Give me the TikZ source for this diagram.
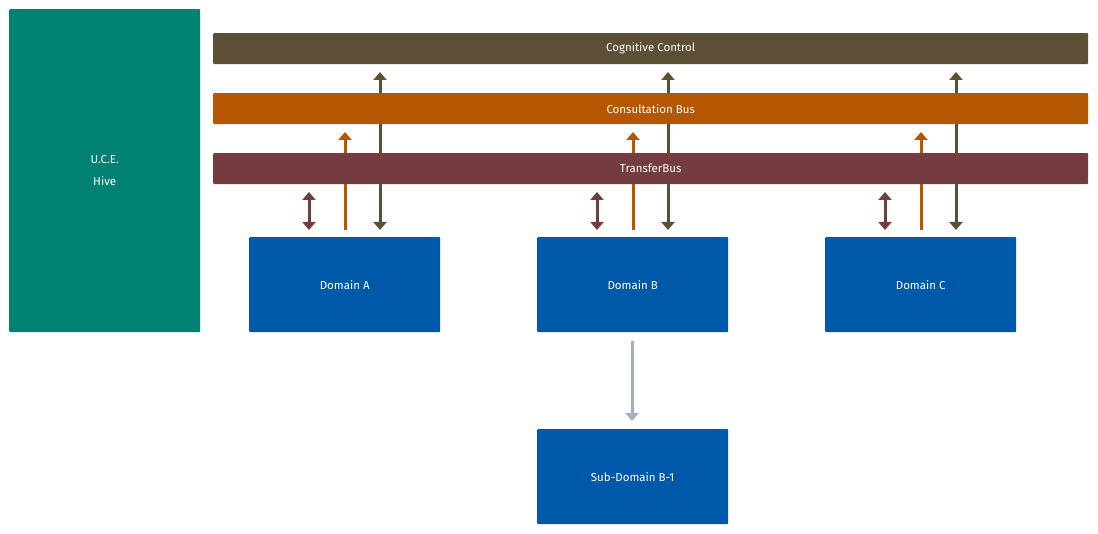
\documentclass[tikz,border=0pt]{standalone}
\usepackage{fontspec}
\setmainfont{Fira Sans}
\usetikzlibrary{arrows.meta}
\definecolor{cc}{HTML}{5C4F35}
\definecolor{cb}{HTML}{B55600}
\definecolor{tb}{HTML}{743C3F}
\definecolor{hive}{HTML}{008272}
\definecolor{dom}{HTML}{0059A8}
\definecolor{gry}{HTML}{A3B0C0}
\tikzset{
 box/.style={fill=dom,text=white,minimum width=191pt,minimum height=95pt,inner sep=0pt,anchor=north west,rounded corners=1pt,font=\fontsize{11.5}{14}\selectfont},
 bar/.style={fill=#1,text=white,minimum width=875pt,minimum height=31pt,inner sep=0pt,anchor=north west,rounded corners=1pt,font=\fontsize{11.5}{14}\selectfont},
 arr/.style={draw=#1,line width=3pt,-{Triangle[width=13pt,length=8pt]}},
 darr/.style={draw=#1,line width=3pt,{Triangle[width=13pt,length=8pt]}-{Triangle[width=13pt,length=8pt]}}
}
\begin{document}
\begin{tikzpicture}[x=1pt,y=-1pt]
\useasboundingbox (0,0) rectangle (1098,534);
% arrows first (behind bars)
\foreach \n/\x in {A/0,B/288,C/576}{
  \coordinate (t\n) at (309+\x,192);
  \coordinate (b\n) at (309+\x,230);
  \draw[darr=tb] (t\n) -- (b\n);
  \coordinate (s\n) at (345+\x,230);
  \coordinate (e\n) at (345+\x,132);
  \draw[arr=cb] (s\n) -- (e\n);
  \coordinate (u\n) at (380+\x,230);
  \coordinate (v\n) at (380+\x,72);
  \draw[{Triangle[width=13pt,length=8pt]}-{Triangle[width=13pt,length=8pt]},draw=cc,fill=cc,line width=3pt] (v\n) -- (u\n);
}
\node[bar=cc] (cog) at (213,33) {Cognitive Control};
\node[bar=cb] (con) at (213,93) {Consultation Bus};
\node[bar=tb] (tra) at (213,153) {TransferBus};
\node[fill=hive,text=white,minimum width=191pt,minimum height=323pt,inner sep=0pt,anchor=north west,rounded corners=1pt,align=center,font=\fontsize{11.5}{22}\selectfont] (hive) at (9,9) {U.C.E.\\Hive};
\node[box] (A) at (249,237) {Domain A};
\node[box] (B) at (537,237) {Domain B};
\node[box] (C) at (825,237) {Domain C};
\node[box] (S) at (537,429) {Sub-Domain B-1};
\coordinate (g1) at (632,341);
\coordinate (g2) at (632,421);
\draw[arr=gry] (g1) -- (g2);
\end{tikzpicture}
\end{document}
